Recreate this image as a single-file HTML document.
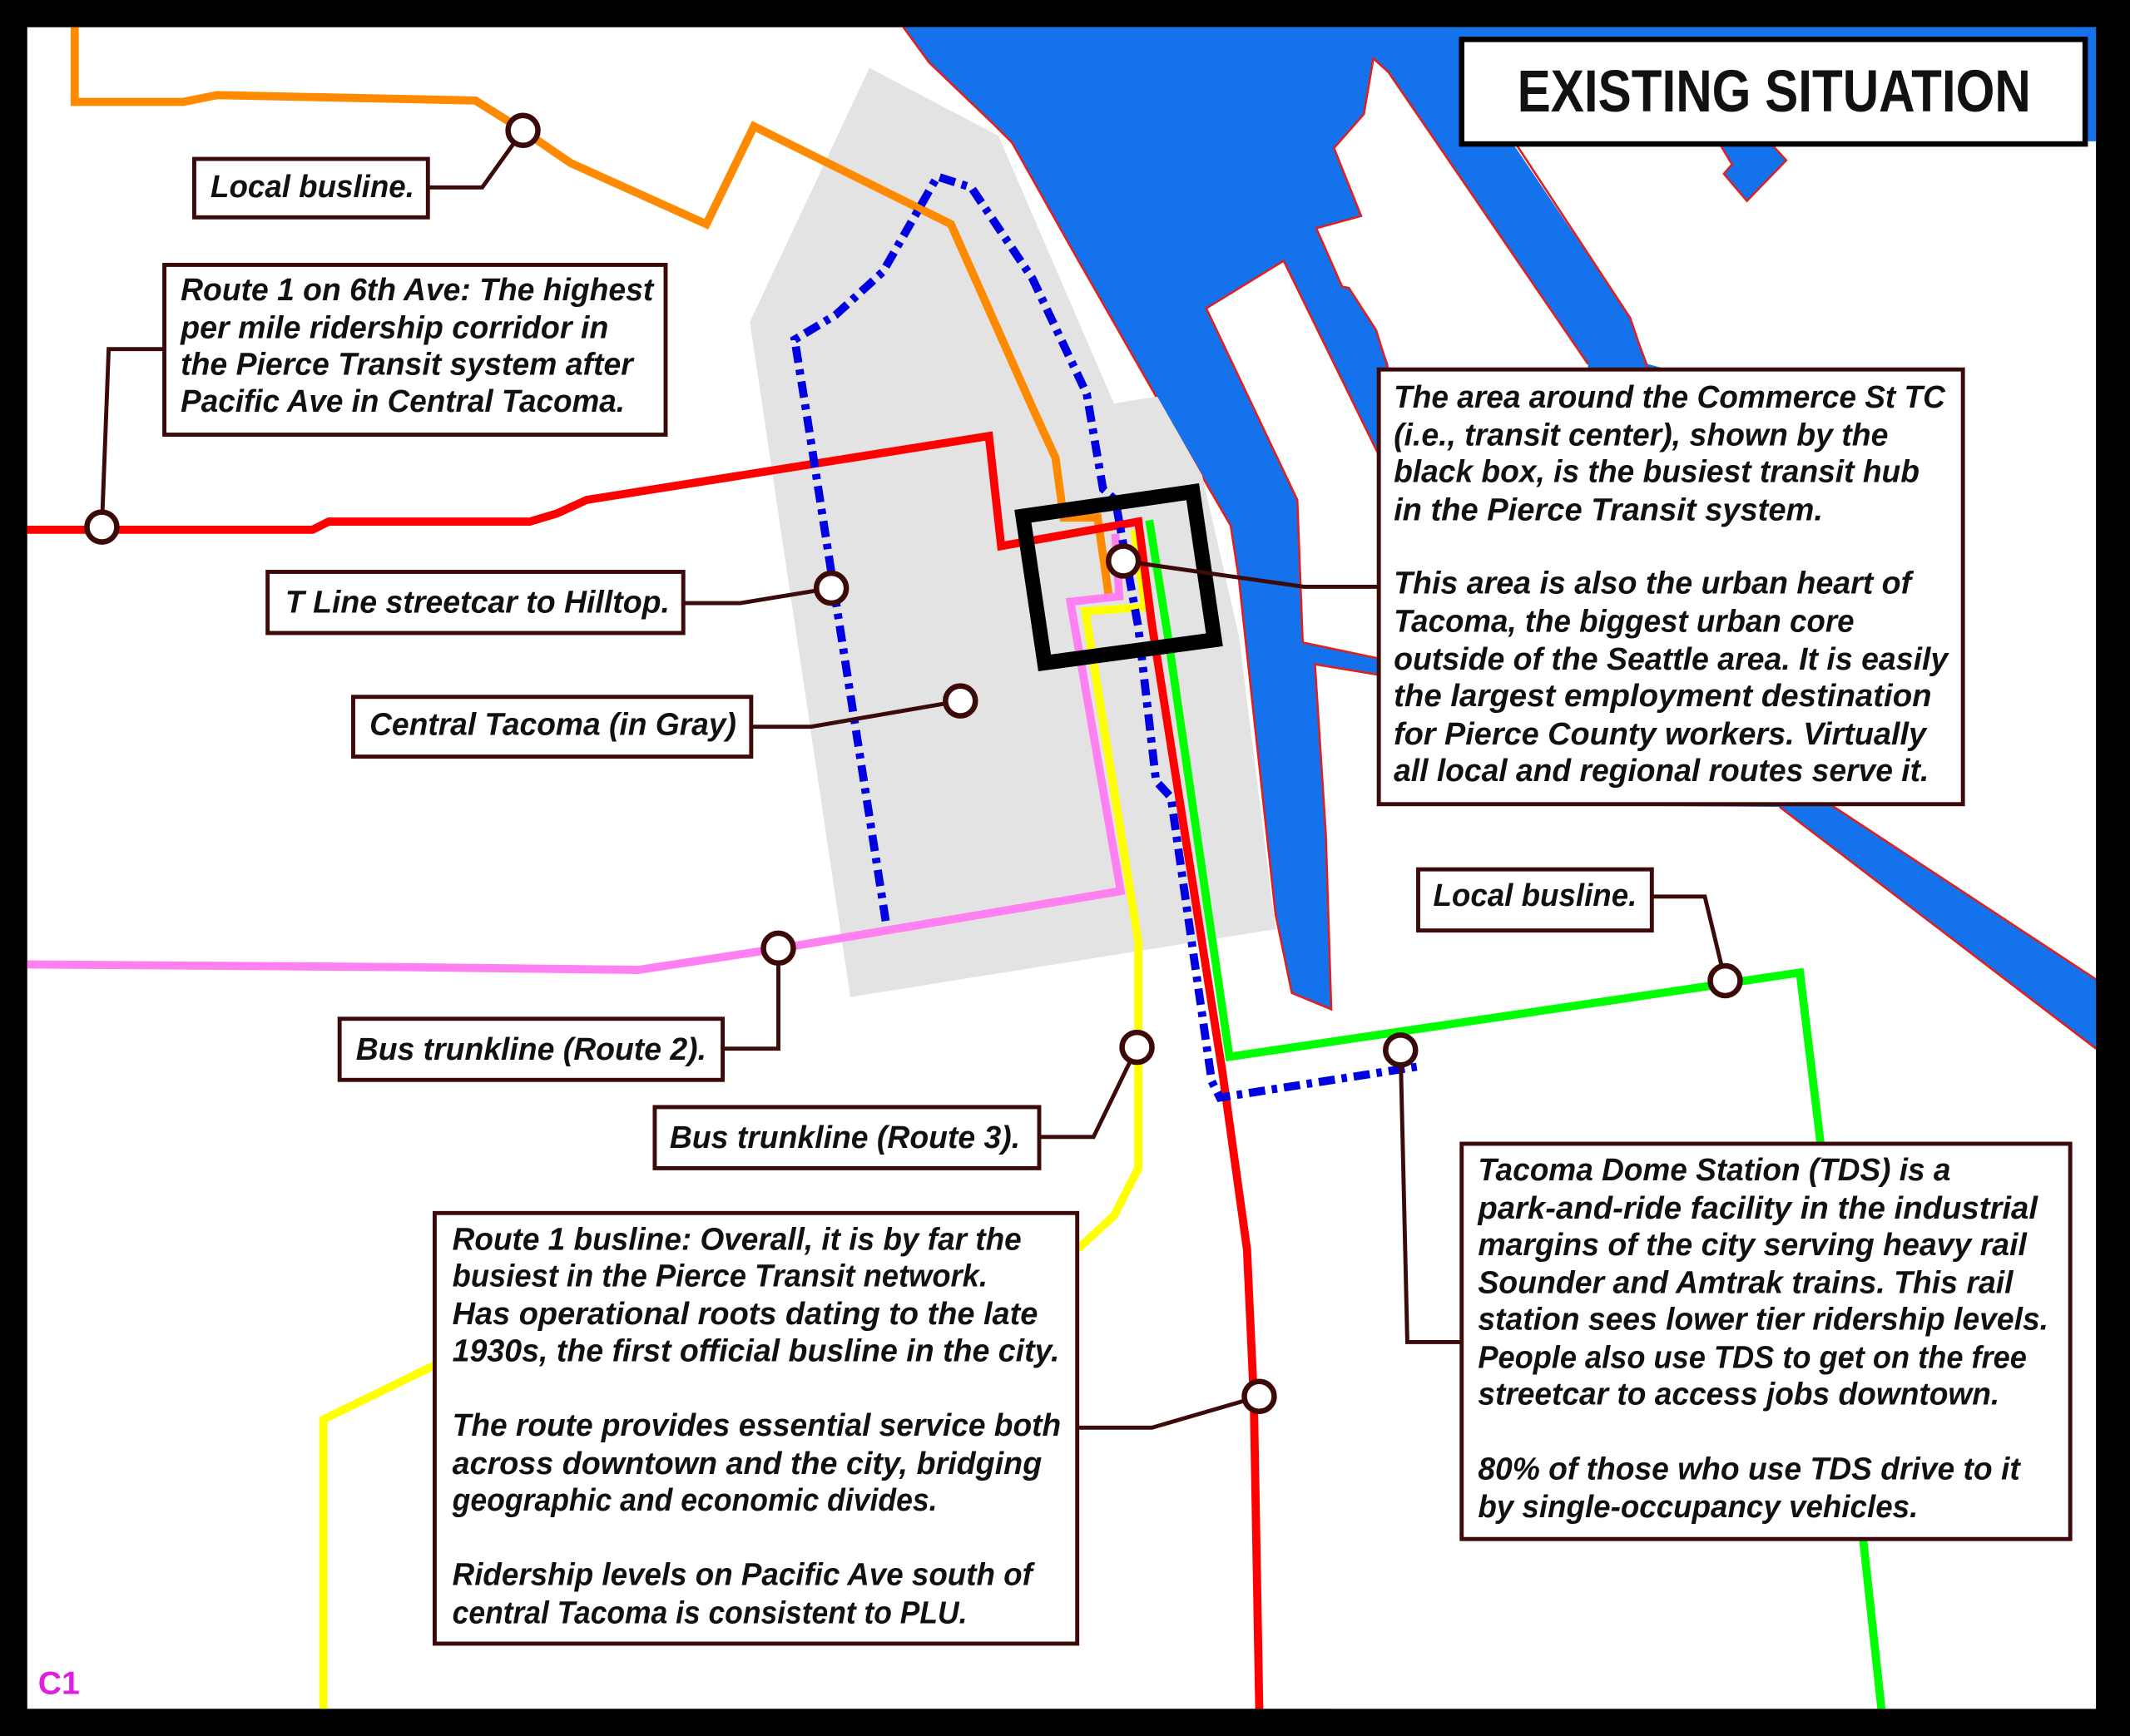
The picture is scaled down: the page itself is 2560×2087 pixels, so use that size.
<!DOCTYPE html>
<html><head><meta charset="utf-8"><style>
html,body{margin:0;padding:0;background:#000;}
svg{display:block;}
text{font-family:"Liberation Sans",sans-serif;font-weight:bold;font-style:italic;font-size:23px;fill:#111;}
</style></head><body>
<svg width="2560" height="2087" viewBox="0 0 1568 1278" preserveAspectRatio="none" xmlns="http://www.w3.org/2000/svg">
<rect x="0" y="0" width="1568" height="1278" fill="#000"/>
<rect x="20" y="20" width="1523" height="1238" fill="#fff"/>
<!-- water -->
<polygon fill="#1472ec" points="665,20 684,46 731,91 745,105 790,185 830,255 862,311 906,387 912,426 939,673 951,731 980,743 1543,790 1543,20"/>
<!-- land -->
<polygon fill="#fff" points="888,227 945,192 1016,337 1016,485 959,473 968,489 1016,497 1016,592 1310,594 1543,772 1543,1258 980,1258 980,743 976,614 968,489 959,473 955,368"/>
<polygon fill="#fff" points="1169,268 1022,53 1011,43 1004,84 982,109 1002,159 969,168 988,211 993,212 1013,243 1022,268 1022,300 1169,300"/>
<polygon fill="#fff" points="1110,104 1543,104 1543,721 1347,592 1330,300 1213,268 1200,234 1116,109"/>
<polygon fill="#1472ec" stroke="#e02020" stroke-width="1.5" points="1266,106 1304,106 1315,118 1286,148 1269,128 1275,121"/>
<g fill="none" stroke="#e02020" stroke-width="1.6">
<polyline points="665,20 684,46 731,91 745,105 790,185 830,255 862,311 906,387 912,426 939,673 951,731 980,743 976,614 968,489 1016,497"/>
<polyline points="1016,485 959,473 955,368 888,227 945,192 1016,337"/>
<polyline points="1310,594 1543,772"/>
<polyline points="1347,592 1543,721"/>
<polyline points="1169,268 1022,53 1011,43 1004,84 982,109 1002,159 969,168 988,211 993,212 1013,243 1022,272"/>
<polyline points="1116,106 1200,234 1213,272"/>
</g>
<!-- gray central tacoma -->
<polygon fill="#e3e3e3" points="552,237 640,50 735,100 820,297 852,292 885,350 912,468 939,684 626,734"/>
<!-- routes -->
<g fill="none" stroke-width="6" stroke-linejoin="miter">
<polyline stroke="#ff8a00" points="55,20 55,75 135,75 160,70 350,74 385,96 420,120 520,165 555,93 700,165 760,300 777,337 783,381 808,381 816,437"/>
<polyline stroke="#ff80f0" points="20,710 300,712 470,714 575,698 825,656 788,443 824,439 821,393"/>
<polyline stroke="#ffff00" points="238,1258 238,1045 320,1005 795,918 820,895 838,860 838,693 799,450 843,447 835,390"/>
<polyline stroke="#ff0000" points="20,390 230,390 242,384 390,384 410,378 432,368 728,321 737,402 838,384 848,460 900,790 918,920 923,1030 927,1258"/>
<polyline stroke="#00ff00" points="846,383 860,470 905,778 1325,716 1340,840 1385,1258"/>
<g stroke="#0000e0" stroke-width="6" stroke-dasharray="12 5 4 5">
<polyline points="652,678 594,306 585,250 615,232 650,200 690,130 715,138 760,205 800,290 812,360 821,368 838,462 851,575 862,587 892,796 898,808 1045,785"/>
</g>
</g>
<!-- commerce black box -->
<polygon fill="none" stroke="#000" stroke-width="11" points="753,380 878,362 894,471 769,488"/>
<!-- connectors -->
<g fill="none" stroke="#3d0a0a" stroke-width="3">
<polyline points="315,138 355,138 385,96"/>
<polyline points="121,257 80,257 75,388"/>
<polyline points="503,444 545,444 612,433"/>
<polyline points="553,535 597,535 707,516"/>
<polyline points="532,772 573,772 573,698"/>
<polyline points="765,837 805,837 837,771"/>
<polyline points="793,1051 848,1051 927,1028"/>
<polyline points="1015,432 960,432 827,413"/>
<polyline points="1216,660 1255,660 1270,722"/>
<polyline points="1076,988 1036,988 1031,773"/>
</g>
<g fill="#fff" stroke="#3d0a0a" stroke-width="4">
<circle cx="385" cy="96" r="11"/><circle cx="75" cy="388" r="11"/><circle cx="612" cy="433" r="11"/>
<circle cx="707" cy="516" r="11"/><circle cx="827" cy="413" r="11"/><circle cx="573" cy="698" r="11"/>
<circle cx="837" cy="771" r="11"/><circle cx="1031" cy="773" r="11"/><circle cx="1270" cy="722" r="11"/>
<circle cx="927" cy="1028" r="11"/>
</g>
<!-- boxes -->
<g fill="#fff" stroke="#3d0a0a" stroke-width="3">
<rect x="143" y="117" width="172" height="43"/>
<rect x="121" y="195" width="369" height="125"/>
<rect x="197" y="421" width="306" height="45"/>
<rect x="260" y="513" width="293" height="44"/>
<rect x="250" y="750" width="282" height="45"/>
<rect x="482" y="815" width="283" height="45"/>
<rect x="320" y="893" width="473" height="317"/>
<rect x="1015" y="272" width="430" height="320"/>
<rect x="1044" y="640" width="172" height="45"/>
<rect x="1076" y="842" width="448" height="291"/>
</g>
<rect x="1076" y="29" width="459" height="77" fill="#fff" stroke="#000" stroke-width="4"/>
<text x="1117" y="82" textLength="378" lengthAdjust="spacingAndGlyphs" style="font-style:normal;font-size:44px;fill:#111">EXISTING SITUATION</text>
<!-- texts -->
<text x="155" y="145" textLength="150" lengthAdjust="spacingAndGlyphs">Local busline.</text>
<text x="133" y="221" textLength="348" lengthAdjust="spacingAndGlyphs">Route 1 on 6th Ave: The highest</text>
<text x="133" y="249" textLength="315" lengthAdjust="spacingAndGlyphs">per mile ridership corridor in</text>
<text x="133" y="276" textLength="333" lengthAdjust="spacingAndGlyphs">the Pierce Transit system after</text>
<text x="133" y="303" textLength="327" lengthAdjust="spacingAndGlyphs">Pacific Ave in Central Tacoma.</text>
<text x="210" y="451" textLength="283" lengthAdjust="spacingAndGlyphs">T Line streetcar to Hilltop.</text>
<text x="272" y="541" textLength="270" lengthAdjust="spacingAndGlyphs">Central Tacoma (in Gray)</text>
<text x="262" y="780" textLength="258" lengthAdjust="spacingAndGlyphs">Bus trunkline (Route 2).</text>
<text x="493" y="845" textLength="258" lengthAdjust="spacingAndGlyphs">Bus trunkline (Route 3).</text>
<text x="333" y="920" textLength="419" lengthAdjust="spacingAndGlyphs">Route 1 busline: Overall, it is by far the</text>
<text x="333" y="947" textLength="394" lengthAdjust="spacingAndGlyphs">busiest in the Pierce Transit network.</text>
<text x="333" y="975" textLength="431" lengthAdjust="spacingAndGlyphs">Has operational roots dating to the late</text>
<text x="333" y="1002" textLength="447" lengthAdjust="spacingAndGlyphs">1930s, the first official busline in the city.</text>
<text x="333" y="1057" textLength="448" lengthAdjust="spacingAndGlyphs">The route provides essential service both</text>
<text x="333" y="1085" textLength="434" lengthAdjust="spacingAndGlyphs">across downtown and the city, bridging</text>
<text x="333" y="1112" textLength="357" lengthAdjust="spacingAndGlyphs">geographic and economic divides.</text>
<text x="333" y="1167" textLength="427" lengthAdjust="spacingAndGlyphs">Ridership levels on Pacific Ave south of</text>
<text x="333" y="1195" textLength="379" lengthAdjust="spacingAndGlyphs">central Tacoma is consistent to PLU.</text>
<text x="1026" y="300" textLength="406" lengthAdjust="spacingAndGlyphs">The area around the Commerce St TC</text>
<text x="1026" y="328" textLength="364" lengthAdjust="spacingAndGlyphs">(i.e., transit center), shown by the</text>
<text x="1026" y="355" textLength="387" lengthAdjust="spacingAndGlyphs">black box, is the busiest transit hub</text>
<text x="1026" y="383" textLength="316" lengthAdjust="spacingAndGlyphs">in the Pierce Transit system.</text>
<text x="1026" y="437" textLength="381" lengthAdjust="spacingAndGlyphs">This area is also the urban heart of</text>
<text x="1026" y="465" textLength="339" lengthAdjust="spacingAndGlyphs">Tacoma, the biggest urban core</text>
<text x="1026" y="493" textLength="408" lengthAdjust="spacingAndGlyphs">outside of the Seattle area. It is easily</text>
<text x="1026" y="520" textLength="396" lengthAdjust="spacingAndGlyphs">the largest employment destination</text>
<text x="1026" y="548" textLength="392" lengthAdjust="spacingAndGlyphs">for Pierce County workers. Virtually</text>
<text x="1026" y="575" textLength="394" lengthAdjust="spacingAndGlyphs">all local and regional routes serve it.</text>
<text x="1055" y="667" textLength="150" lengthAdjust="spacingAndGlyphs">Local busline.</text>
<text x="1088" y="869" textLength="348" lengthAdjust="spacingAndGlyphs">Tacoma Dome Station (TDS) is a</text>
<text x="1088" y="897" textLength="412" lengthAdjust="spacingAndGlyphs">park-and-ride facility in the industrial</text>
<text x="1088" y="924" textLength="404" lengthAdjust="spacingAndGlyphs">margins of the city serving heavy rail</text>
<text x="1088" y="952" textLength="394" lengthAdjust="spacingAndGlyphs">Sounder and Amtrak trains. This rail</text>
<text x="1088" y="979" textLength="420" lengthAdjust="spacingAndGlyphs">station sees lower tier ridership levels.</text>
<text x="1088" y="1007" textLength="404" lengthAdjust="spacingAndGlyphs">People also use TDS to get on the free</text>
<text x="1088" y="1034" textLength="384" lengthAdjust="spacingAndGlyphs">streetcar to access jobs downtown.</text>
<text x="1088" y="1089" textLength="399" lengthAdjust="spacingAndGlyphs">80% of those who use TDS drive to it</text>
<text x="1088" y="1117" textLength="324" lengthAdjust="spacingAndGlyphs">by single-occupancy vehicles.</text>
<text x="28" y="1247" style="font-style:normal;font-size:24px;fill:#e020e0">C1</text>
<!-- frame -->
<path fill="#000" fill-rule="evenodd" d="M0,0H1568V1278H0Z M20,20V1258H1543V20Z"/>
</svg>
</body></html>
